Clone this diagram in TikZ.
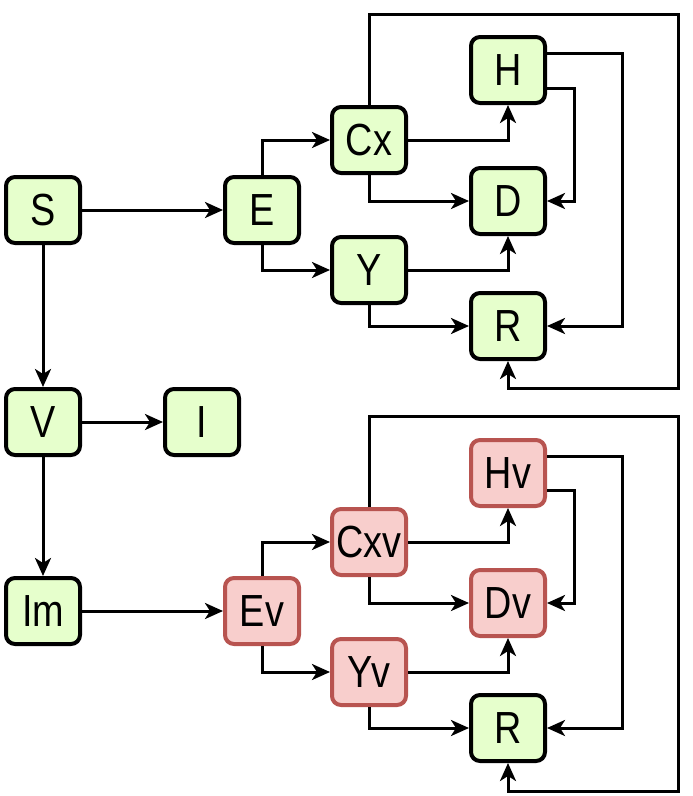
\documentclass[tikz,border=0pt]{standalone}
\usepackage{fontspec}
\setmainfont{Liberation Sans}[FakeStretch=0.84]
\usetikzlibrary{positioning, arrows.meta}

\definecolor{greenfill}{HTML}{E6FFCC}
\definecolor{redfill}{HTML}{F8CECC}
\definecolor{redline}{HTML}{B85450}

\begin{document}
\begin{tikzpicture}[
    x = 1pt, y = -1pt,
    comp/.style = {rectangle, rounded corners=9pt, draw, line width=4pt, minimum width=74pt, minimum height=66pt, inner sep=0pt, align=center, font=\fontsize{45}{50}\selectfont},
    plain/.style = {comp, fill=greenfill, draw=black},
    vacc/.style = {comp, fill=redfill, draw=redline},
    arr/.style = {-{Stealth[length=18pt, width=16pt, inset=5pt]}, line width=3pt}
]
\useasboundingbox (0,0) rectangle (693,796);

% Susceptible and vaccinated
    \node[plain] (S) at (43,210) {S};
    \node[plain] (V) at (43,422) {V};
    \node[plain] (I) at (202,422) {I};
    \node[plain] (Im) at (43,611) {Im};

% Upper branch
    \node[plain] (E) at (262,210) {E};
    \node[plain] (Cx) at (369,140) {Cx};
    \node[plain] (Y) at (369,270) {Y};
    \node[plain] (H) at (508,70) {H};
    \node[plain] (D) at (508,201) {D};
    \node[plain] (R) at (508,326) {R};

% Lower branch
    \node[vacc] (Ev) at (262,611) {Ev};
    \node[vacc] (Cxv) at (369,542) {Cxv};
    \node[vacc] (Yv) at (369,672) {Yv};
    \node[vacc] (Hv) at (508,473) {Hv};
    \node[vacc] (Dv) at (508,603) {Dv};
    \node[plain] (Rv) at (508,728) {R};

% Arrows
    \draw[arr] (S) -- (E);
    \draw[arr] (S) -- (V);
    \draw[arr] (V) -- (I);
    \draw[arr] (V) -- (Im);
    \draw[arr] (Im) -- (Ev);

    \draw[arr] (E.north) |- (Cx.west);
    \draw[arr] (E.south) |- (Y.west);
    \draw[arr] (Cx.east) -| (H.south);
    \draw[arr] (Cx.south) |- (D.west);
    \draw[arr] (Y.east) -| (D.south);
    \draw[arr] (Y.south) |- (R.west);
    \draw[arr] ([yshift=-18pt]H.east) -- ++(27,0) |- (D.east);
    \draw[arr] ([yshift=17pt]H.east) -- ++(75,0) |- (R.east);
    \draw[arr] (Cx.north) |- (678,14) -- (678,388) -| (R.south);

    \draw[arr] (Ev.north) |- (Cxv.west);
    \draw[arr] (Ev.south) |- (Yv.west);
    \draw[arr] (Cxv.east) -| (Hv.south);
    \draw[arr] (Cxv.south) |- (Dv.west);
    \draw[arr] (Yv.east) -| (Dv.south);
    \draw[arr] (Yv.south) |- (Rv.west);
    \draw[arr] ([yshift=-17pt]Hv.east) -- ++(27,0) |- (Dv.east);
    \draw[arr] ([yshift=17pt]Hv.east) -- ++(75,0) |- (Rv.east);
    \draw[arr] (Cxv.north) |- (678,416) -- (678,791) -| (Rv.south);
\end{tikzpicture}
\end{document}
